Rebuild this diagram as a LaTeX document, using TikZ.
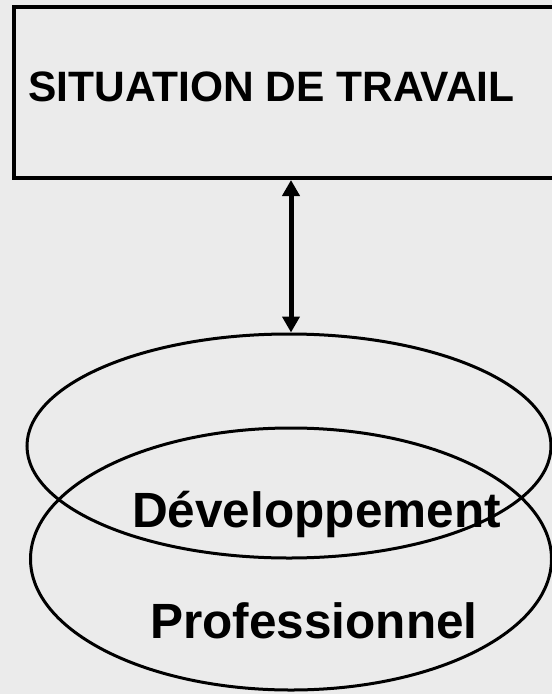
\documentclass[tikz,border=0pt]{standalone}
\usepackage{fontspec}
\setmainfont{Liberation Sans}
\usetikzlibrary{shapes.geometric,arrows.meta}
\definecolor{bg}{HTML}{EBEBEB}
\tikzset{
  boxstyle/.style={draw=black, line width=4bp, rectangle, inner sep=0pt},
  ovalstyle/.style={draw=black, line width=3bp, ellipse, inner sep=0pt},
  titletext/.style={font=\bfseries\fontsize{42.5bp}{48bp}\selectfont, inner sep=0pt, anchor=base west},
  bigtext/.style={font=\bfseries\fontsize{49.5bp}{56bp}\selectfont, inner sep=0pt, anchor=base west},
  linkarrow/.style={line width=5bp, {Triangle[width=17bp,length=16bp]}-{Triangle[width=17bp,length=16bp]}}
}
\begin{document}
\begin{tikzpicture}[x=1bp,y=-1bp]
\useasboundingbox (0,0) rectangle (552,694);
\fill[bg] (0,0) rectangle (552,694);
\clip (0,0) rectangle (552,694);
\node[boxstyle, minimum width=586bp, minimum height=171bp] (box) at (307,92.5) {};
\node[titletext] (title) at (28,102) {SITUATION DE TRAVAIL};
\node[ovalstyle, minimum width=524bp, minimum height=224bp] (e1) at (289,446) {};
\node[ovalstyle, minimum width=521bp, minimum height=262bp] (e2) at (291,559) {};
\node[bigtext] (dev) at (132,527) {Développement};
\node[bigtext] (pro) at (150,638) {Professionnel};
\draw[linkarrow] (box.south -| dev.base west) ++(159,0) coordinate (atop) -- (atop |- e1.north);
\end{tikzpicture}
\end{document}
